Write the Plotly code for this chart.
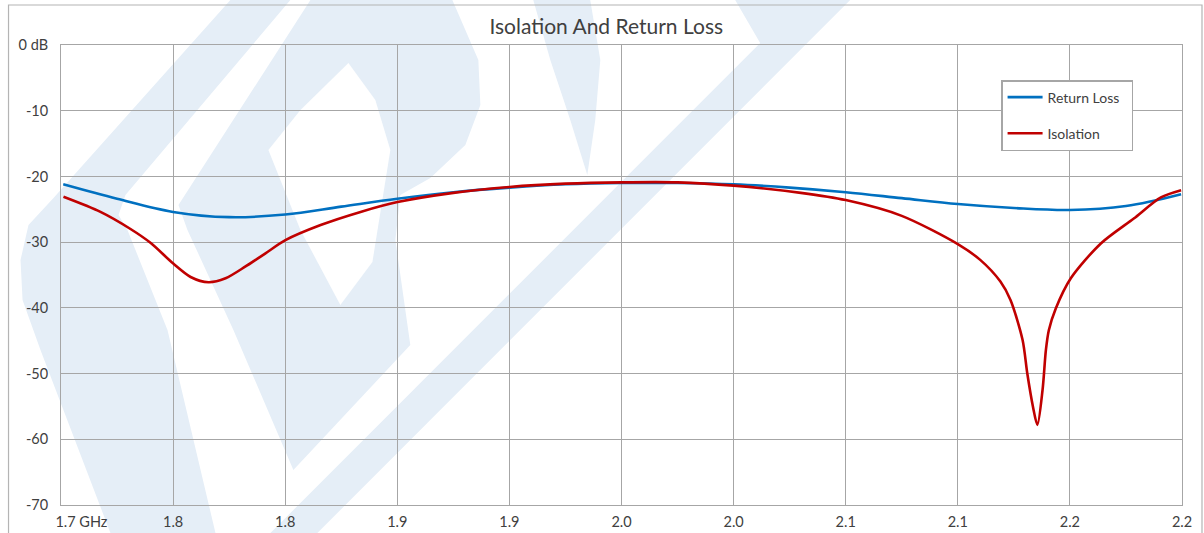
import plotly.graph_objects as go

# ---------------- data ----------------
rl_freq = [1.701, 1.725, 1.750, 1.775, 1.800, 1.825, 1.850, 1.875, 1.900, 1.925,
           1.950, 1.975, 2.000, 2.025, 2.050, 2.075, 2.100, 2.125, 2.150, 2.175, 2.1996]
rl_db = [-21.2, -23.4, -25.4, -26.2, -25.8, -24.6, -23.4, -22.4, -21.7, -21.2,
         -21.0, -21.0, -21.2, -21.7, -22.4, -23.3, -24.2, -24.8, -25.1, -24.5, -22.7]

iso_freq = [1.7011, 1.7176, 1.7310, 1.7399, 1.7502, 1.7578, 1.7658, 1.7734, 1.7823, 1.7912,
            1.8001, 1.8158, 1.8336, 1.8501, 1.875, 1.900, 1.925, 1.950, 1.975, 2.000,
            2.030, 2.050, 2.075, 2.100, 2.110, 2.119, 2.1235, 2.1289, 2.131, 2.1335,
            2.1355, 2.1378, 2.1393, 2.1406, 2.1437, 2.1504, 2.1638, 2.1785, 2.1906, 2.1996]
iso_db = [-23.1, -25.4, -28.0, -30.1, -33.3, -35.3, -36.1, -35.5, -33.7, -31.7,
          -29.7, -27.4, -25.4, -23.9, -22.5, -21.6, -21.1, -20.9, -20.9, -21.4,
          -22.5, -23.6, -26.0, -30.3, -32.7, -36.0, -38.8, -44.9, -50.0, -55.0,
          -57.8, -52.5, -46.4, -43.4, -40.1, -35.5, -30.2, -26.4, -23.2, -22.1]

x_tickvals = [1.70, 1.75, 1.80, 1.85, 1.90, 1.95, 2.00, 2.05, 2.10, 2.15, 2.20]
x_ticktext = ["\u00a0" * 11 + "1.7 GHz", "1.8", "1.8", "1.9", "1.9", "2.0", "2.0",
              "2.1", "2.1", "2.2", "2.2"]
y_tickvals = [0, -10, -20, -30, -40, -50, -60, -70]
y_ticktext = ["0 dB", "-10", "-20", "-30", "-40", "-50", "-60", "-70"]

# ---------------- layout geometry ----------------
W, H = 1204, 533
ML, MR, MT, MB = 60.5, 22, 45, 28
PW, PH = W - ML - MR, H - MT - MB


def px(xp, yp):
    return (xp - ML) / PW, (H - MB - yp) / PH


def poly(points):
    s = ""
    for i, (a, b) in enumerate(points):
        u, v = px(a, b)
        s += ("M" if i == 0 else "L") + f"{u:.4f},{v:.4f} "
    return s + "Z"


WM = "#e5eef7"
watermark = [
    [(230, 0), (290, 0), (125, 195), (118, 215), (127, 230), (167, 330), (215, 533), (110, 533),
     (40, 350), (22, 300), (20, 260), (28, 225), (53, 198)],
    [(310, 0), (452, 0), (478, 60), (480, 105), (465, 145), (430, 178), (400, 195), (395, 240),
     (410, 345), (293, 470), (233, 330), (187, 230), (178, 205)],
    [(735, 0), (850, 0), (317, 533), (270, 533), (760, 43)],
    [(533, 0), (590, 0), (600, 60), (595, 120), (587, 175), (570, 120), (550, 60)],
]
holes = [[(348, 63), (375, 100), (390, 150), (372, 262), (340, 305), (300, 230), (268, 150), (300, 110)]]

shapes = []
for p in watermark:
    shapes.append(dict(type="path", path=poly(p), xref="paper", yref="paper",
                       fillcolor=WM, line=dict(width=0), layer="below"))
for p in holes:
    shapes.append(dict(type="path", path=poly(p), xref="paper", yref="paper",
                       fillcolor="white", line=dict(width=0), layer="below"))

# outer chart border
x0, y0 = px(8, 5)
x1, y1 = px(1202, 540)
shapes.append(dict(type="rect", xref="paper", yref="paper", x0=x0, y0=y1, x1=x1, y1=y0,
                   line=dict(color="#b4b4b4", width=1.2), fillcolor="rgba(0,0,0,0)", layer="above"))

fig = go.Figure()
fig.add_trace(go.Scatter(x=rl_freq, y=rl_db, mode="lines", name="Return Loss\u00a0\u00a0",
                         line=dict(color="#0070c0", width=2.6, shape="spline", smoothing=1.0),
                         legendgroup="a"))
fig.add_trace(go.Scatter(x=iso_freq, y=iso_db, mode="lines", name="Isolation",
                         line=dict(color="#c00000", width=2.6, shape="spline", smoothing=0.8),
                         legendgroup="b"))

FONT = "Lato"
TXT = "#404040"
GRID = "#a6a6a6"

lx, ly = px(1001, 80)
fig.update_layout(
    width=W, height=H,
    margin=dict(l=ML, r=MR, t=MT, b=MB, autoexpand=False),
    paper_bgcolor="white", plot_bgcolor="rgba(0,0,0,0)",
    font=dict(family=FONT, color=TXT, size=14),
    title=dict(text="Isolation And Return Loss", x=(606 - ML) / PW, xref="paper", xanchor="center",
               y=(H - 27) / H, yanchor="middle", font=dict(size=21, color=TXT, family=FONT)),
    xaxis=dict(range=[1.7, 2.2], tickvals=x_tickvals, ticktext=x_ticktext, automargin=False,
               showgrid=True, gridcolor=GRID, gridwidth=1, showline=True, linecolor=GRID,
               linewidth=1, mirror=True, zeroline=False, ticks="", ticklabelstandoff=4,
               tickfont=dict(size=14.5, color=TXT)),
    yaxis=dict(range=[-70, 0], tickvals=y_tickvals, ticktext=y_ticktext, automargin=False,
               showgrid=True, gridcolor=GRID, gridwidth=1, showline=True, linecolor=GRID,
               linewidth=1, mirror=True, zeroline=False, ticks="", ticklabelstandoff=9,
               tickfont=dict(size=14.5, color=TXT)),
    legend=dict(x=lx, y=ly, xanchor="left", yanchor="top", bgcolor="white",
                bordercolor=GRID, borderwidth=1.5, font=dict(size=14, color=TXT),
                tracegroupgap=15, itemwidth=35),
    shapes=shapes,
    showlegend=True,
)

fig.write_html("out.html", config={"displayModeBar": False},
               post_script="document.body.style.margin='0';")
